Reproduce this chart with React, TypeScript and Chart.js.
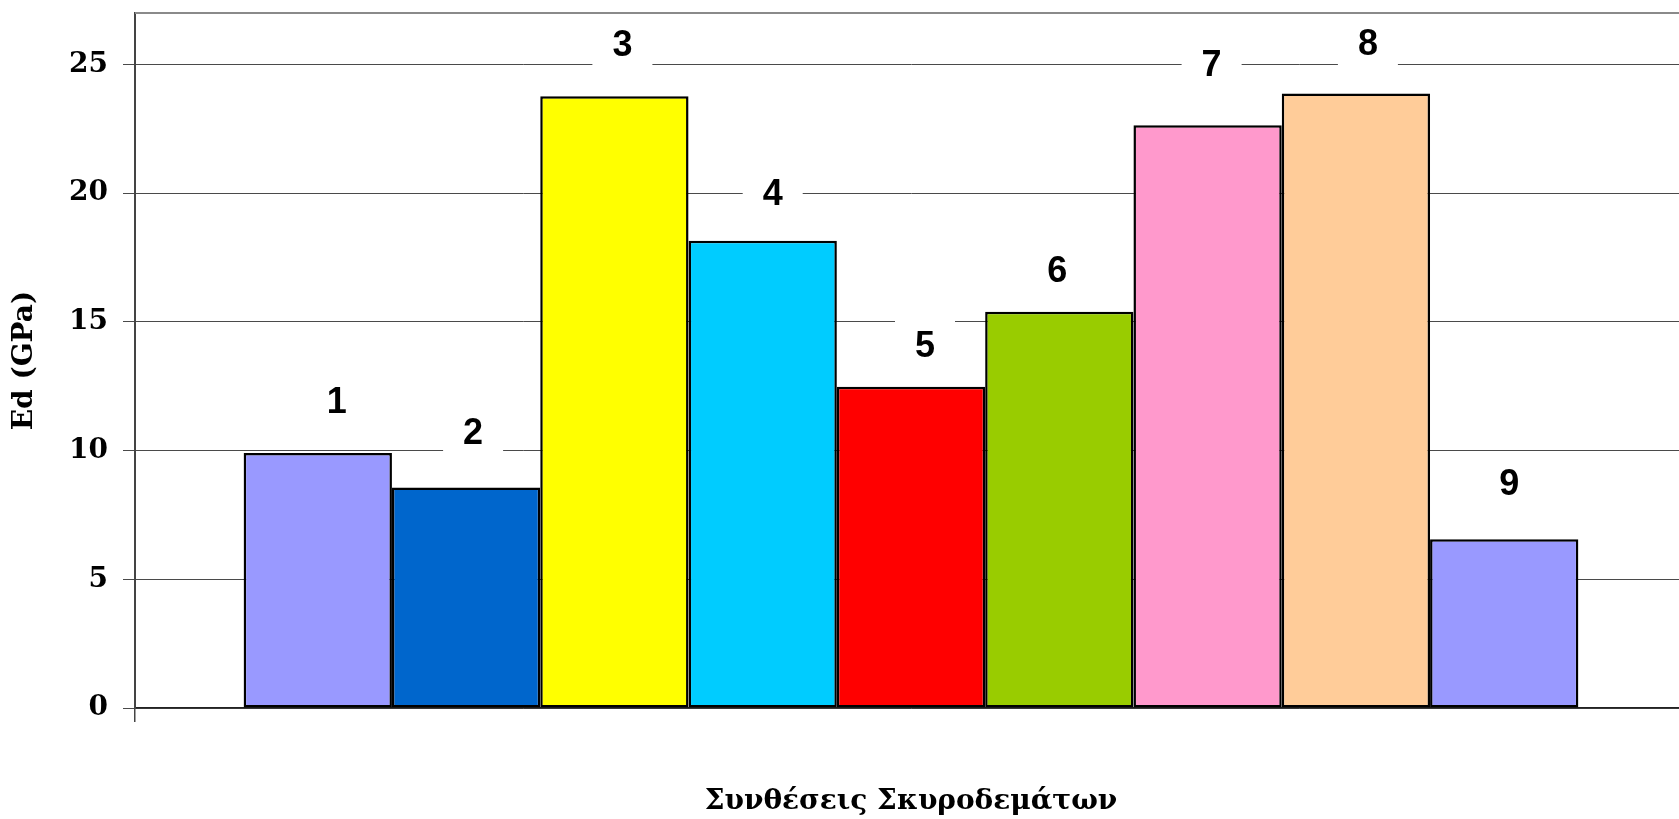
import React, { useEffect, useRef } from 'react';
import { Chart, registerables } from 'chart.js';

Chart.register(...registerables);

// One category group holding the nine concrete mixes
const categories = [''];
const mixNames = ['1', '2', '3', '4', '5', '6', '7', '8', '9'];
const edGPa = [9.91, 8.57, 23.77, 18.15, 12.48, 15.39, 22.64, 23.87, 6.56];
const mixColors = [
  '#9999FF', '#0066CC', '#FFFF00', '#00CCFF', '#FF0000',
  '#99CC00', '#FF99CC', '#FFCC99', '#9999FF',
];
const yTickValues = [0, 5, 10, 15, 20, 25];
const yAxisTitle = 'Ed (GPa)';
const xAxisTitle = 'Συνθέσεις Σκυροδεμάτων';

// Manual nudges of the name labels: [right, above bar top] in px
const labelNudge: [number, number][] = [
  [19, 52], [7, 55], [8, 52], [10, 48], [14, 42],
  [-2, 42], [4, 61], [12, 50], [5, 56],
];

const serif = '"DejaVu Serif", serif';

const frameTop = {
  id: 'frameTop',
  beforeDatasetsDraw(chart: any) {
    const { ctx, chartArea } = chart;
    ctx.save();
    ctx.strokeStyle = '#8a8a8a';
    ctx.lineWidth = 2;
    ctx.beginPath();
    ctx.moveTo(chartArea.left, chartArea.top);
    ctx.lineTo(chartArea.right, chartArea.top);
    ctx.stroke();
    ctx.restore();
  },
};

const nameLabels = {
  id: 'nameLabels',
  afterDatasetsDraw(chart: any) {
    const { ctx } = chart;
    ctx.save();
    ctx.font = 'bold 36px "Liberation Sans", Arial, sans-serif';
    ctx.textAlign = 'center';
    ctx.textBaseline = 'middle';
    chart.data.datasets.forEach((ds: any, i: number) => {
      const bar = chart.getDatasetMeta(i).data[0];
      if (!bar) return;
      const [dx, dy] = labelNudge[i];
      const cx = bar.x + dx;
      const cy = bar.y - dy;
      ctx.fillStyle = '#ffffff';
      ctx.fillRect(cx - 30, cy - 25, 60, 50);
      ctx.fillStyle = '#000000';
      ctx.fillText(ds.label, cx, cy + 2);
    });
    ctx.restore();
  },
};

export default function App() {
  const canvasRef = useRef<HTMLCanvasElement | null>(null);

  useEffect(() => {
    if (!canvasRef.current) return;
    const chart = new Chart(canvasRef.current, {
      type: 'bar',
      data: {
        labels: categories,
        datasets: mixNames.map((name, i) => ({
          label: name,
          data: [edGPa[i]],
          backgroundColor: mixColors[i],
          borderColor: '#000000',
          borderWidth: 2.5,
          borderSkipped: false,
          barPercentage: 1,
          categoryPercentage: 0.86,
        })),
      },
      options: {
        responsive: false,
        animation: false,
        layout: { padding: { top: 13, right: 13, left: 0, bottom: 0 } },
        plugins: {
          legend: { display: false },
          tooltip: { enabled: false },
        },
        scales: {
          x: {
            offset: true,
            grid: {
              offset: true,
              drawOnChartArea: false,
              tickLength: 14,
              color: '#444444',
              lineWidth: 1.5,
            },
            border: { color: '#222222', width: 1.5 },
            ticks: { display: false },
            title: {
              display: true,
              text: xAxisTitle,
              color: '#000000',
              font: { family: serif, size: 28, weight: 'bold', lineHeight: 1.2 },
              padding: { top: 63, bottom: 0 },
            },
            afterFit(scale: any) {
              scale.height = 111;
              scale.paddingLeft = 0;
              scale.paddingRight = 0;
            },
          },
          y: {
            min: 0,
            max: 27,
            afterBuildTicks(scale: any) {
              scale.ticks = yTickValues.map((v) => ({ value: v }));
            },
            grid: {
              color: '#4a4a4a',
              lineWidth: 1,
              tickLength: 12,
            },
            border: { color: '#444444', width: 2 },
            ticks: {
              color: '#000000',
              padding: 15,
              font: { family: serif, size: 28, weight: 'bold', lineHeight: 1 },
            },
            title: {
              display: true,
              text: yAxisTitle,
              color: '#000000',
              font: { family: serif, size: 28, weight: 'bold', lineHeight: 1.2 },
              padding: { top: 8, bottom: 0 },
            },
            afterFit(scale: any) {
              scale.width = 135;
              scale.paddingTop = 0;
              scale.paddingBottom = 0;
            },
          },
        },
      },
      plugins: [frameTop, nameLabels],
    });
    return () => chart.destroy();
  }, []);

  return (
    <div
      style={{
        position: 'fixed',
        left: 0,
        top: 0,
        width: 1679,
        height: 819,
        overflow: 'hidden',
        background: '#ffffff',
      }}
    >
      <canvas ref={canvasRef} width={1700} height={819} style={{ display: 'block' }} />
    </div>
  );
}
